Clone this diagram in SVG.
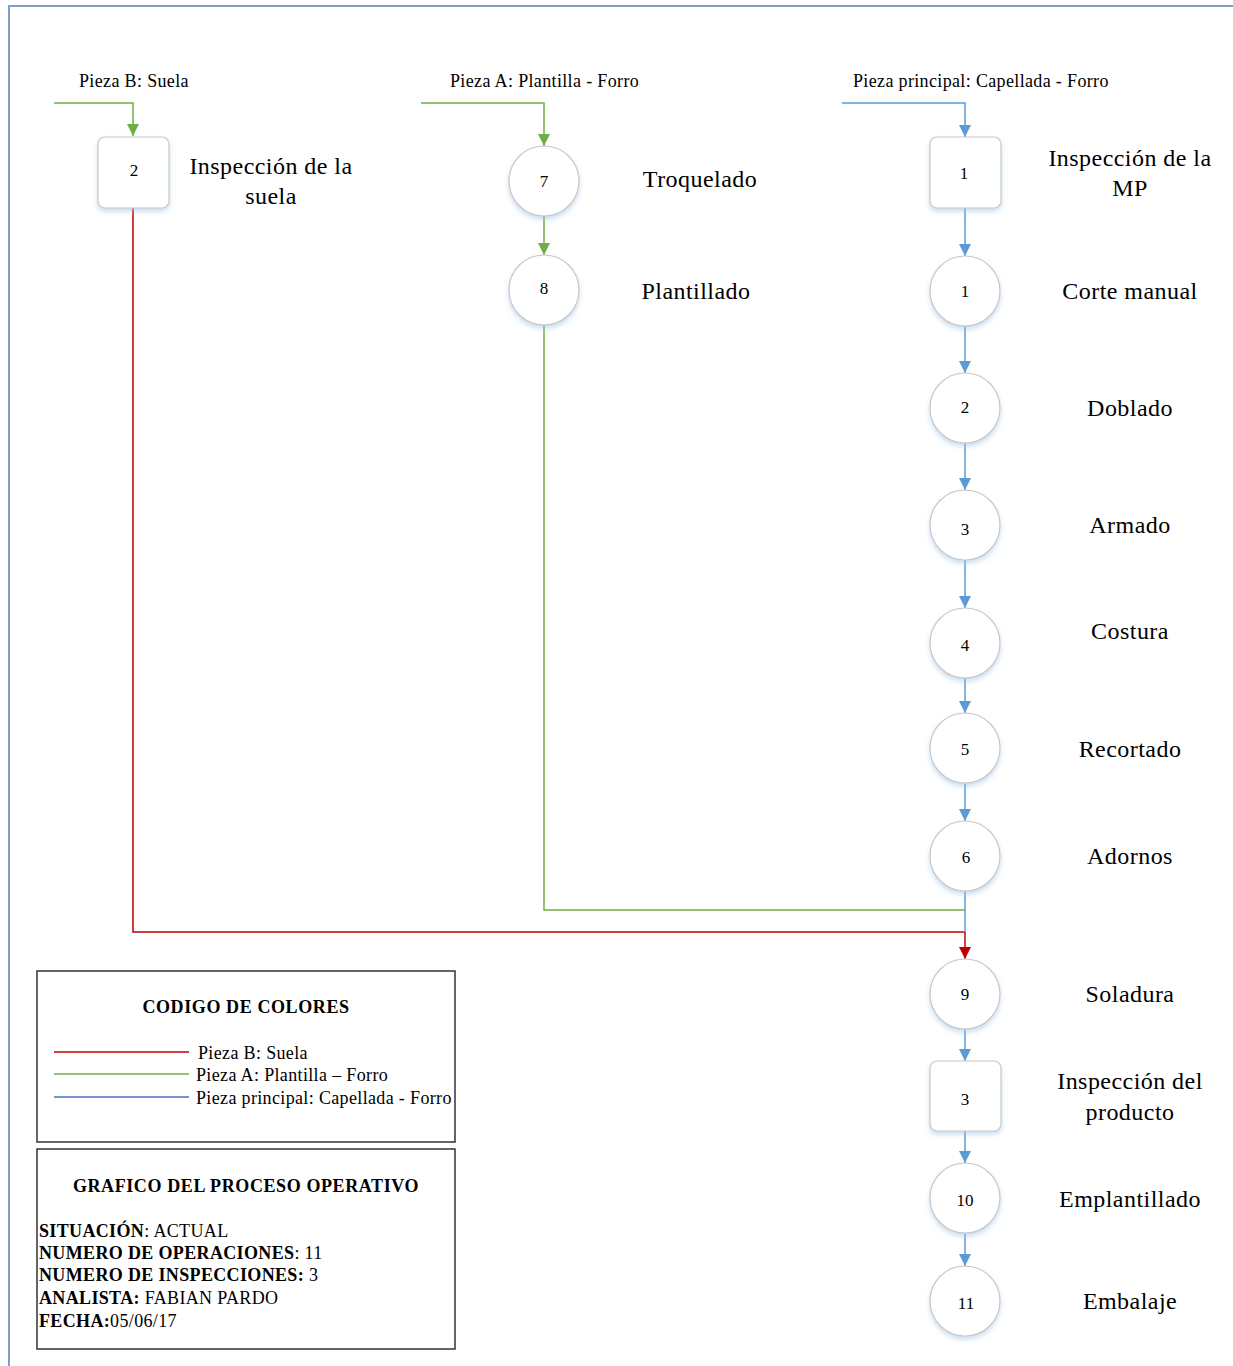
<svg xmlns="http://www.w3.org/2000/svg" width="1233" height="1366" viewBox="0 0 1233 1366">
  <style>
    .frame { fill: none; stroke: #7f9fc8; stroke-width: 2; }
    .node { fill: #ffffff; stroke: #c8c8c8; stroke-width: 1.2; filter: url(#glow); }
    .num { font-family: "Liberation Serif", "Times New Roman", serif; font-size: 17px; fill: #000; text-anchor: middle; }
    .lbl { font-family: "Liberation Serif", "Times New Roman", serif; font-size: 24px; letter-spacing: 0.45px; fill: #000; text-anchor: middle; }
    .src { font-family: "Liberation Serif", "Times New Roman", serif; font-size: 18px; letter-spacing: 0.35px; fill: #000; }
    .box { fill: #ffffff; stroke: #333333; stroke-width: 1.5; }
    .leg { font-family: "Liberation Serif", "Times New Roman", serif; font-size: 18px; letter-spacing: 0.35px; fill: #000; }
    .bold { font-weight: bold; }
    .title { letter-spacing: 0.6px; }
    .c-blue { fill: none; stroke: #5b9bd5; stroke-width: 1.5; }
    .c-green { fill: none; stroke: #70ad47; stroke-width: 1.5; }
    .c-red { fill: none; stroke: #c00000; stroke-width: 1.5; }
  </style>
  <defs>
    <filter id="glow" x="-30%" y="-30%" width="160%" height="170%">
      <feDropShadow dx="0" dy="3" stdDeviation="2.5" flood-color="#9dc3e6" flood-opacity="0.55"/>
    </filter>
    <marker id="arr-blue" markerUnits="userSpaceOnUse" markerWidth="12" markerHeight="12" refX="12" refY="6" orient="auto">
      <path d="M0,0 L12,6 L0,12 z" fill="#5b9bd5"/>
    </marker>
    <marker id="arr-green" markerUnits="userSpaceOnUse" markerWidth="12" markerHeight="12" refX="12" refY="6" orient="auto">
      <path d="M0,0 L12,6 L0,12 z" fill="#70ad47"/>
    </marker>
    <marker id="arr-red" markerUnits="userSpaceOnUse" markerWidth="12" markerHeight="12" refX="12" refY="6" orient="auto">
      <path d="M0,0 L12,6 L0,12 z" fill="#c00000"/>
    </marker>
  </defs>

  <rect width="1233" height="1366" fill="#ffffff"/>

  <!-- page frame -->
  <path class="frame" d="M9,1366 L9,6 L1233,6"/>

  <!-- source labels -->
  <text class="src" x="79" y="87">Pieza B: Suela</text>
  <text class="src" x="450" y="87">Pieza A: Plantilla - Forro</text>
  <text class="src" x="853" y="87">Pieza principal: Capellada - Forro</text>

  <!-- connectors -->
  <g id="connectors">
    <path class="c-green" d="M54,103 L133,103 L133,136" marker-end="url(#arr-green)"/>
    <path class="c-green" d="M421,103 L544,103 L544,146" marker-end="url(#arr-green)"/>
    <path class="c-blue" d="M842,103 L965,103 L965,137" marker-end="url(#arr-blue)"/>

    <path class="c-green" d="M544,216 L544,255" marker-end="url(#arr-green)"/>
    <path class="c-green" d="M544,325 L544,910 L965,910"/>
    <path class="c-red" d="M133,208 L133,932 L965,932"/>

    <path class="c-blue" d="M965,208 L965,256" marker-end="url(#arr-blue)"/>
    <path class="c-blue" d="M965,326 L965,373" marker-end="url(#arr-blue)"/>
    <path class="c-blue" d="M965,443 L965,490" marker-end="url(#arr-blue)"/>
    <path class="c-blue" d="M965,560 L965,608" marker-end="url(#arr-blue)"/>
    <path class="c-blue" d="M965,678 L965,713" marker-end="url(#arr-blue)"/>
    <path class="c-blue" d="M965,783 L965,821" marker-end="url(#arr-blue)"/>
    <path class="c-blue" d="M965,891 L965,932"/>
    <path class="c-red" d="M965,932 L965,959" marker-end="url(#arr-red)"/>
    <path class="c-blue" d="M965,1029 L965,1061" marker-end="url(#arr-blue)"/>
    <path class="c-blue" d="M965,1131 L965,1163" marker-end="url(#arr-blue)"/>
    <path class="c-blue" d="M965,1233 L965,1266" marker-end="url(#arr-blue)"/>
  </g>

  <!-- Pieza B column -->
  <g id="insp-b2">
    <rect class="node" x="98" y="137" width="71" height="71" rx="7"/>
    <text class="num" x="134" y="176">2</text>
    <text class="lbl" x="271" y="174">Inspección de la</text>
    <text class="lbl" x="271" y="204">suela</text>
  </g>

  <!-- Pieza A column -->
  <g id="op-7">
    <circle class="node" cx="544" cy="181" r="35"/>
    <text class="num" x="544" y="187">7</text>
    <text class="lbl" x="700" y="187">Troquelado</text>
  </g>
  <g id="op-8">
    <circle class="node" cx="544" cy="290" r="35"/>
    <text class="num" x="544" y="294">8</text>
    <text class="lbl" x="696" y="299">Plantillado</text>
  </g>

  <!-- Pieza principal column -->
  <g id="insp-1">
    <rect class="node" x="930" y="137" width="71" height="71" rx="7"/>
    <text class="num" x="964" y="179">1</text>
    <text class="lbl" x="1130" y="166">Inspección de la</text>
    <text class="lbl" x="1130" y="196">MP</text>
  </g>
  <g id="op-1">
    <circle class="node" cx="965" cy="291" r="35"/>
    <text class="num" x="965" y="297">1</text>
    <text class="lbl" x="1130" y="299">Corte manual</text>
  </g>
  <g id="op-2">
    <circle class="node" cx="965" cy="408" r="35"/>
    <text class="num" x="965" y="413">2</text>
    <text class="lbl" x="1130" y="416">Doblado</text>
  </g>
  <g id="op-3">
    <circle class="node" cx="965" cy="525" r="35"/>
    <text class="num" x="965" y="535">3</text>
    <text class="lbl" x="1130" y="533">Armado</text>
  </g>
  <g id="op-4">
    <circle class="node" cx="965" cy="643" r="35"/>
    <text class="num" x="965" y="651">4</text>
    <text class="lbl" x="1130" y="639">Costura</text>
  </g>
  <g id="op-5">
    <circle class="node" cx="965" cy="748" r="35"/>
    <text class="num" x="965" y="755">5</text>
    <text class="lbl" x="1130" y="757">Recortado</text>
  </g>
  <g id="op-6">
    <circle class="node" cx="965" cy="856" r="35"/>
    <text class="num" x="966" y="863">6</text>
    <text class="lbl" x="1130" y="864">Adornos</text>
  </g>
  <g id="op-9">
    <circle class="node" cx="965" cy="994" r="35"/>
    <text class="num" x="965" y="1000">9</text>
    <text class="lbl" x="1130" y="1002">Soladura</text>
  </g>
  <g id="insp-3">
    <rect class="node" x="930" y="1061" width="71" height="70" rx="7"/>
    <text class="num" x="965" y="1105">3</text>
    <text class="lbl" x="1130" y="1089">Inspección del</text>
    <text class="lbl" x="1130" y="1120">producto</text>
  </g>
  <g id="op-10">
    <circle class="node" cx="965" cy="1198" r="35"/>
    <text class="num" x="965" y="1206">10</text>
    <text class="lbl" x="1130" y="1207">Emplantillado</text>
  </g>
  <g id="op-11">
    <circle class="node" cx="965" cy="1301" r="35"/>
    <text class="num" x="966" y="1309">11</text>
    <text class="lbl" x="1130" y="1309">Embalaje</text>
  </g>

  <!-- colour legend -->
  <g id="legend">
    <rect class="box" x="37" y="971" width="418" height="171"/>
    <text class="leg bold title" x="246" y="1013" text-anchor="middle">CODIGO DE COLORES</text>
    <line x1="54" y1="1052" x2="189" y2="1052" stroke="#c00000" stroke-width="1.5"/>
    <line x1="54" y1="1074" x2="189" y2="1074" stroke="#70ad47" stroke-width="1.5"/>
    <line x1="54" y1="1097" x2="189" y2="1097" stroke="#4472c4" stroke-width="1.5"/>
    <text class="leg" x="198" y="1059">Pieza B: Suela</text>
    <text class="leg" x="196" y="1081">Pieza A: Plantilla – Forro</text>
    <text class="leg" x="196" y="1104">Pieza principal: Capellada - Forro</text>
  </g>

  <!-- chart information -->
  <g id="info">
    <rect class="box" x="37" y="1149" width="418" height="200"/>
    <text class="leg bold title" x="246" y="1192" text-anchor="middle">GRAFICO DEL PROCESO OPERATIVO</text>
    <text class="leg" x="39" y="1237"><tspan class="bold">SITUACIÓN</tspan>: ACTUAL</text>
    <text class="leg" x="39" y="1259"><tspan class="bold">NUMERO DE OPERACIONES</tspan>: 11</text>
    <text class="leg" x="39" y="1281"><tspan class="bold">NUMERO DE INSPECCIONES:</tspan> 3</text>
    <text class="leg" x="39" y="1304"><tspan class="bold">ANALISTA:</tspan> FABIAN PARDO</text>
    <text class="leg" x="39" y="1327"><tspan class="bold">FECHA:</tspan>05/06/17</text>
  </g>
</svg>
